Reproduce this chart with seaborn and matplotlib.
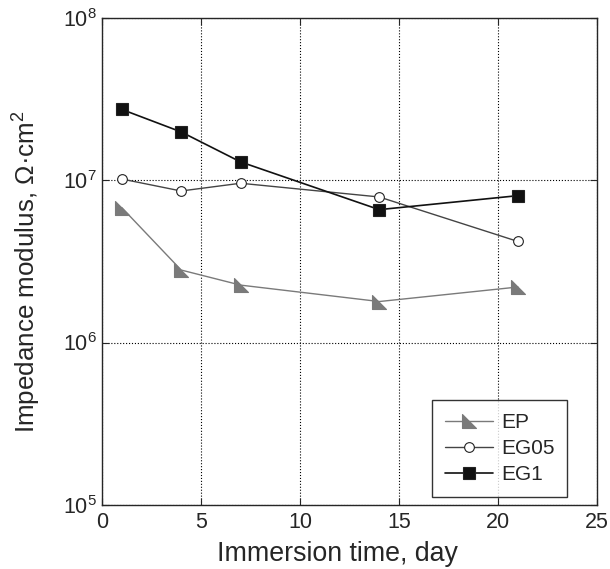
import matplotlib
matplotlib.use("Agg")
import matplotlib.pyplot as plt
import seaborn as sns
import pandas as pd
from matplotlib.path import Path

days = [1, 4, 7, 14, 21]
ep = [6.8e6, 2.8e6, 2.26e6, 1.79e6, 2.2e6]
eg05 = [1.02e7, 8.6e6, 9.6e6, 7.9e6, 4.2e6]
eg1 = [2.74e7, 1.99e7, 1.30e7, 6.6e6, 8.05e6]

df = pd.DataFrame({
    'day': days * 3,
    'Z': ep + eg05 + eg1,
    'coating': ['EP'] * 5 + ['EG05'] * 5 + ['EG1'] * 5,
})

sns.set_style('ticks')
plt.rcParams['font.family'] = ['Liberation Sans', 'DejaVu Sans']
plt.rcParams['mathtext.fontset'] = 'custom'
plt.rcParams['mathtext.rm'] = 'Liberation Sans'

# right triangle marker, like the original
wedge = Path([(-1, 1), (-1, -1), (1, -1), (-1, 1)],
             [Path.MOVETO, Path.LINETO, Path.LINETO, Path.CLOSEPOLY])

fig = plt.figure(figsize=(6.10, 5.69), dpi=100)
ax = fig.add_axes([0.167, 0.113, 0.812, 0.855])

sns.lineplot(data=df, x='day', y='Z', hue='coating', style='coating',
             palette={'EP': '#7a7a7a', 'EG05': '#444444', 'EG1': '#111111'},
             markers={'EP': wedge, 'EG05': 'o', 'EG1': 's'},
             dashes=False, ax=ax, legend=False)

lines = ax.get_lines()
sizes = {0: 9.5, 1: 7, 2: 9}
lws = {0: 1.0, 1: 1.0, 2: 1.2}
fcs = {0: '#7a7a7a', 1: 'white', 2: '#111111'}
for i, ln in enumerate(lines[:3]):
    ln.set_markersize(sizes[i])
    ln.set_linewidth(lws[i])
    ln.set_markerfacecolor(fcs[i])
    ln.set_markeredgecolor('#7a7a7a' if i == 0 else '#222222')
    ln.set_markeredgewidth(0.8)

ax.set_yscale('log')
ax.set_xlim(0, 25)
ax.set_ylim(1e5, 1e8)
ax.set_xticks([0, 5, 10, 15, 20, 25])
ax.set_yticks([1e5, 1e6, 1e7, 1e8])
ax.set_yticklabels([r'$10^5$', r'$10^6$', r'$10^7$', r'$10^8$'])
ax.minorticks_off()
ax.tick_params(direction='in', length=5, labelsize=15.5, top=True, right=True, width=0.8)
ax.tick_params(axis='x', pad=5)
ax.grid(True, linestyle=':', color='black', linewidth=0.8)
for s in ax.spines.values():
    s.set_linewidth(1.0)

ax.set_xlabel('Immersion time, day', fontsize=19.3)
ax.xaxis.set_label_coords(0.475, -0.075)
ax.set_ylabel('Impedance modulus, Ω·cm$^2$', fontsize=18.7)
ax.yaxis.set_label_coords(-0.12, 0.48)

leg = ax.legend(lines[:3], ['EP', 'EG05', 'EG1'], loc='lower right',
                bbox_to_anchor=(0.939, 0.016), borderaxespad=0, fontsize=15,
                frameon=True, fancybox=False, edgecolor='black',
                handlelength=2.3, borderpad=0.6, labelspacing=0.35,
                handletextpad=0.4)
leg.get_frame().set_linewidth(1.0)

fig.savefig('out.png', dpi=100)
